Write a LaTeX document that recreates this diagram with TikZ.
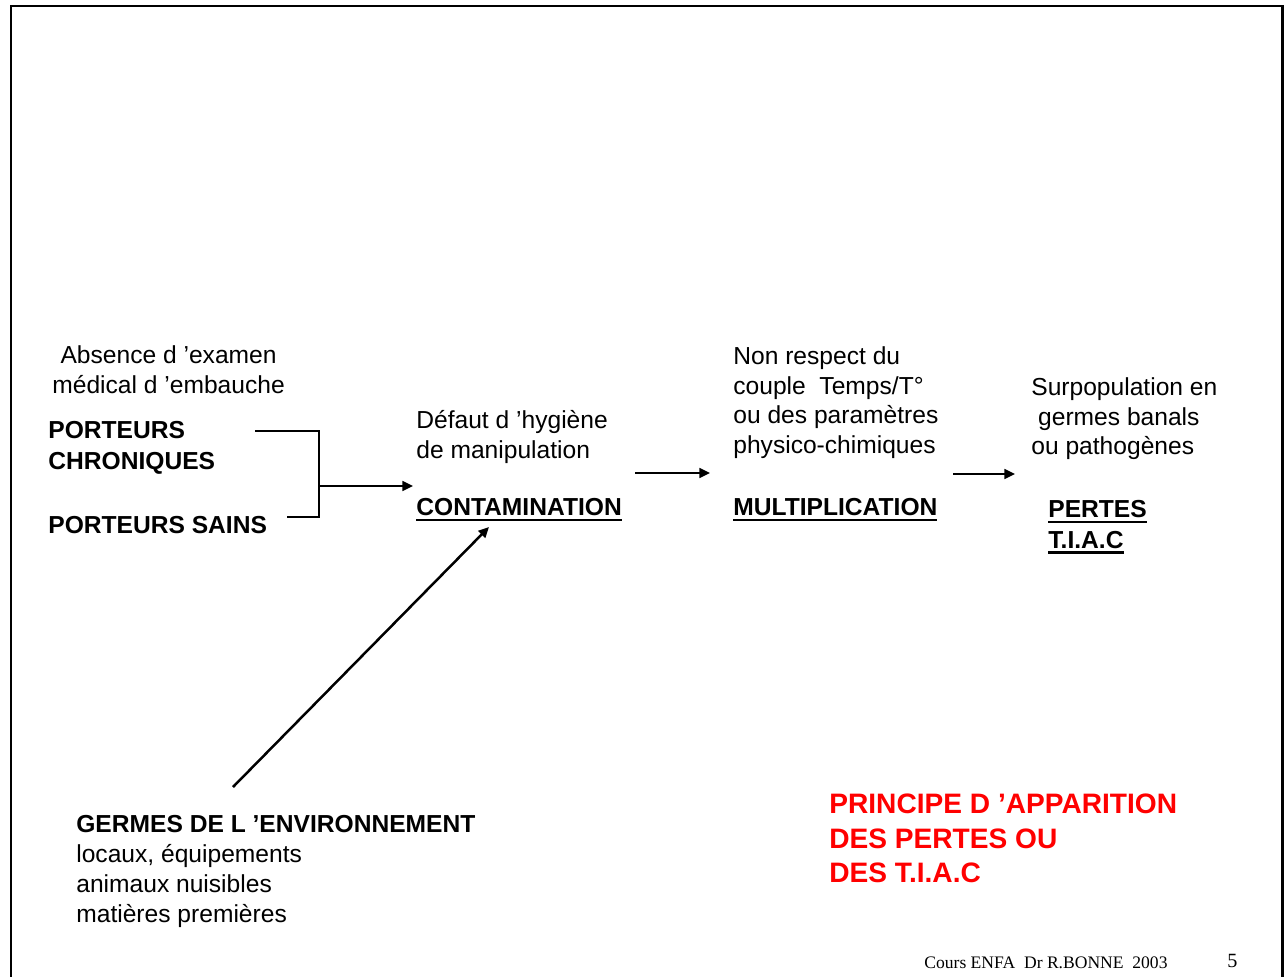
\documentclass[tikz,border=0pt]{standalone}
\usepackage{fontspec}
\setmainfont{Liberation Sans}
\newfontfamily\timesfont{Liberation Serif}
\usetikzlibrary{arrows.meta}
\newlength\soulen
\newcommand\souligne[1]{\settowidth\soulen{#1}\rlap{\rule[-3.3pt]{\soulen}{1.5pt}}#1}
\begin{document}
\begin{tikzpicture}[x = 0.02cm, y = -0.02cm,
        mtext/.style = {anchor = north west, inner sep = 0pt, align = left, font = \fontsize{14}{17}\selectfont},
        mbold/.style = {mtext, font = \fontsize{14}{17.5}\selectfont\bfseries},
        mred/.style = {mtext, red, font = \fontsize{16}{19.6}\selectfont\bfseries},
        marrow/.style = {-{Triangle[length = 6pt, width = 5.5pt]}, line width = 0.05cm},
        mline/.style = {line width = 0.045cm}
    ]
        \useasboundingbox (0,0) rectangle (1284,977);

        \draw[mline] (10,6) -- (1284,6);
        \draw[mline] (11,6) -- (11,977);
        \draw[line width = 0.06cm] (1282.5,6) -- (1282.5,977);

        \node[mtext, align = center] (examen) at (52,345) {Absence d ’examen\\médical d ’embauche};
        \node[mbold] (chroniques) at (48,421) {PORTEURS\\CHRONIQUES};
        \node[mbold] (sains) at (48,516) {PORTEURS SAINS};

        \node[mtext] (defaut) at (416,410) {Défaut d ’hygiène\\de manipulation};
        \node[mbold] (contamination) at (416,498) {\souligne{CONTAMINATION}};

        \node[mtext] (respect) at (733,346) {Non respect du\\couple~ Temps/T°\\ou des paramètres\\physico-chimiques};
        \node[mbold] (multiplication) at (733,498) {\souligne{MULTIPLICATION}};

        \node[mtext] (surpopulation) at (1031,377) {Surpopulation en\\~germes banals\\ou pathogènes};
        \node[mbold] (pertes) at (1048,500) {\souligne{PERTES}\\\souligne{T.I.A.C}};

        \node[mtext] (germes) at (76,815) {\textbf{GERMES DE L ’ENVIRONNEMENT}\\locaux, équipements\\animaux nuisibles\\matières premières};

        \node[mred] (principe) at (829,794) {PRINCIPE D ’APPARITION\\DES PERTES OU\\DES T.I.A.C};

        \node[mtext, font = \fontsize{10}{12}\timesfont] (cours) at (924,956) {Cours ENFA~ Dr R.BONNE~ 2003};
        \node[mtext, font = \fontsize{11.5}{14}\timesfont] (page) at (1227,954) {5};

        \coordinate (b1) at (255,431);
        \coordinate (b2) at (319,431);
        \coordinate (b3) at (319,517);
        \coordinate (b4) at (287,517);
        \coordinate (bj) at (319,486);
        \coordinate (bt) at (413,486);
        \draw[mline] (b1) -- (b2) -- (b3) -- (b4);
        \draw[marrow] (bj) -- (bt);

        \coordinate (m1) at (635,473);
        \coordinate (m2) at (710,473);
        \draw[marrow] (m1) -- (m2);

        \coordinate (p1) at (953,474);
        \coordinate (p2) at (1015,474);
        \draw[marrow] (p1) -- (p2);

        \coordinate (g1) at (233,787);
        \coordinate (g2) at (489,527);
        \draw[marrow] (g1) -- (g2);
    \end{tikzpicture}
\end{document}
